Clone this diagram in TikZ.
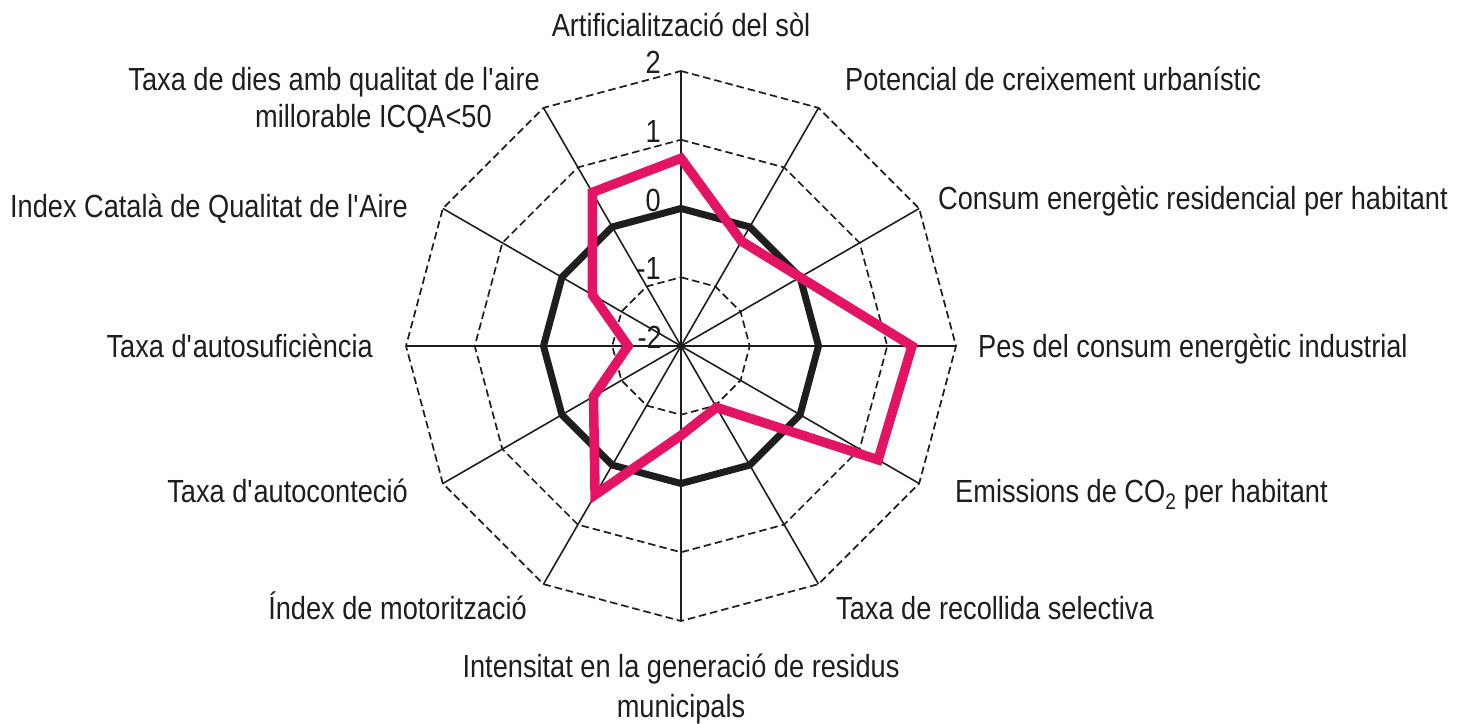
\documentclass[tikz,border=0pt]{standalone}
\usepackage{fontspec}
\setmainfont[FakeStretch=0.85]{Liberation Sans}
\definecolor{rpink}{RGB}{228,20,100}
\definecolor{txt}{RGB}{30,30,30}
\begin{document}
\begin{tikzpicture}[x=1pt,y=-1pt,
  lbl/.style={font=\fontsize{32}{38}\selectfont, inner sep=0pt, text=txt},
  tick/.style={font=\fontsize{32}{38}\selectfont, inner sep=0pt, anchor=base east, text=txt},
  gridring/.style={line width=1.7pt, dash pattern=on 7.5pt off 4pt, txt},
  spoke/.style={line width=1.6pt, txt},
  refline/.style={line width=7pt, line join=round, txt},
  dataline/.style={rpink, line width=9.5pt, line join=miter}]
\useasboundingbox (0,0) rectangle (1459,723);
\def\cx{681}\def\cy{346}\def\st{68.75}
\coordinate (C) at (\cx,\cy);
\foreach \i in {0,...,11}{
  \pgfmathsetmacro\a{90-30*\i}
  \coordinate (o\i) at ({\cx+275*cos(\a)},{\cy-275*sin(\a)});
}
% dashed rings
\foreach \k in {1,3,4}{
  \draw[gridring] ({\cx},{\cy-\k*\st}) \foreach \i in {1,...,11}{ -- ({\cx+\k*\st*cos(90-30*\i)},{\cy-\k*\st*sin(90-30*\i)}) } -- cycle;
}
% spokes
\foreach \i in {0,...,11}{ \draw[spoke] (C) -- (o\i); }
% reference ring (value 0)
\draw[refline] ({\cx},{\cy-2*\st}) \foreach \i in {1,...,11}{ -- ({\cx+2*\st*cos(90-30*\i)},{\cy-2*\st*sin(90-30*\i)}) } -- cycle;
% data
\draw[dataline] ({\cx},{\cy-2.73*\st}) \foreach \a/\v in {60/-0.24, 30/0.0, 0/1.36, -30/1.31, -60/-0.97, -90/-0.7, -120/0.5, -150/-0.53, 180/-1.23, 150/-0.51, 120/0.58}{ -- ({\cx+(\v+2)*\st*cos(\a)},{\cy-(\v+2)*\st*sin(\a)}) } -- cycle;
% tick labels
\node[tick] (t2) at (661,73.5) {2};
\node[tick] (t1) at (661,142) {1};
\node[tick] (t0) at (661,211) {0};
\node[tick] (tm1) at (661,279) {-1};
\node[tick] (tm2) at (662,348) {-2};
% axis labels
\node[lbl, anchor=base] (l0) at (681,36) {Artificialització del sòl};
\node[lbl, anchor=base west] (l1) at (845,90) {Potencial de creixement urbanístic};
\node[lbl, anchor=base west] (l2) at (938,209) {Consum energètic residencial per habitant};
\node[lbl, anchor=base west] (l3) at (978,357) {Pes del consum energètic industrial};
\node[lbl, anchor=base west] (l4) at (955,502) {Emissions de CO\textsubscript{2} per habitant};
\node[lbl, anchor=base west] (l5) at (836,619) {Taxa de recollida selectiva};
\node[lbl, anchor=base] (l6a) at (681,677) {Intensitat en la generació de residus};
\node[lbl, anchor=base] (l6b) at (681,717) {municipals};
\node[lbl, anchor=base east] (l7) at (527,619) {Índex de motorització};
\node[lbl, anchor=base east] (l8) at (408,502) {Taxa d\textquotesingle autoconteció};
\node[lbl, anchor=base east] (l9) at (373,357) {Taxa d\textquotesingle autosuficiència};
\node[lbl, anchor=base east] (l10) at (408,217) {Index Català de Qualitat de l\textquotesingle Aire};
\node[lbl, anchor=base east] (l11a) at (540,90) {Taxa de dies amb qualitat de l\textquotesingle aire};
\node[lbl, anchor=base east] (l11b) at (492,127) {millorable ICQA<50};
\end{tikzpicture}
\end{document}
